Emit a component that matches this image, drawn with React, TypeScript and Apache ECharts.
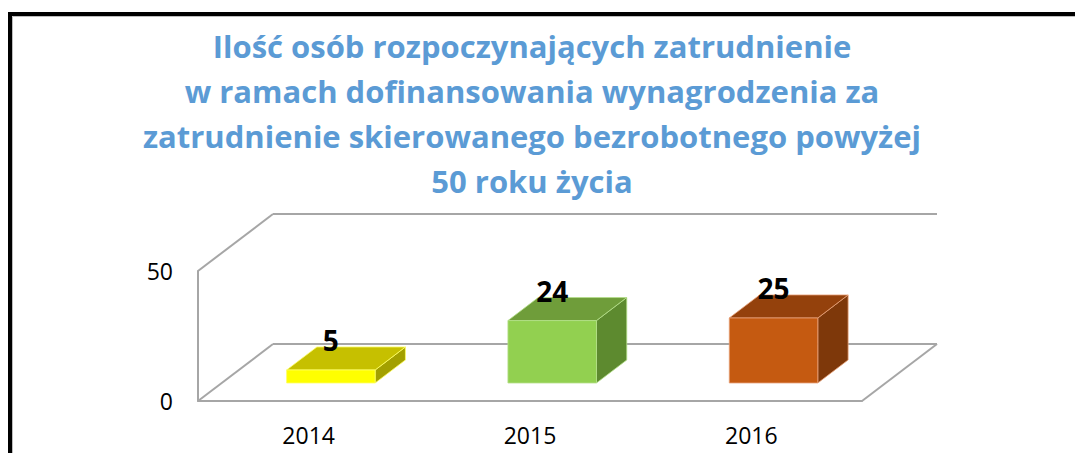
import React, { useEffect, useRef } from "react";
import * as echarts from "echarts";

const categories = ["2014", "2015", "2016"];
const values = [5, 24, 25];
const yTicks = [0, 50];
const titleLines = [
  "Ilość osób rozpoczynających zatrudnienie",
  "w ramach dofinansowania wynagrodzenia za",
  "zatrudnienie skierowanego bezrobotnego powyżej",
  "50 roku życia",
];

const frontColors = ["#FFFF00", "#92D050", "#C55A11"];
const topColors = ["#C6C000", "#6F9D3A", "#94410C"];
const sideColors = ["#A3A000", "#5D8A2F", "#7E380A"];
const edgeColors = ["#FFFF66", "#B5E08A", "#E8A27A"];

const DX = 75;
const DY = -57;
const F1 = 0.316;
const F2 = 0.72;
const WALL = "#A6A6A6";
const FONT = "'Open Sans', 'Noto Sans', sans-serif";

export default function App() {
  const ref = useRef<HTMLDivElement>(null);
  useEffect(() => {
    if (!ref.current) return;
    const chart = echarts.init(ref.current, null, { renderer: "svg" });
    const option: any = {
      animation: false,
      backgroundColor: "#FFFFFF",
      title: {
        text: titleLines.join("\n"),
        left: 527,
        textAlign: "center",
        top: 18,
        textStyle: {
          fontFamily: FONT,
          fontSize: 31,
          fontWeight: "bold",
          color: "#5B9BD5",
          lineHeight: 45,
        },
      },
      graphic: [
        {
          type: "rect",
          shape: { x: 10, y: 14, width: 1200, height: 600 },
          style: { fill: "none", stroke: "#000000", lineWidth: 4 },
          z: 10,
        },
        {
          type: "rect",
          shape: { x: 12.5, y: 16.5, width: 1200, height: 600 },
          style: { fill: "none", stroke: "#BDBDBD", lineWidth: 1 },
          z: 10,
        },
      ],
      grid: { left: 198, right: 213, top: 271, bottom: 52, containLabel: false },
      xAxis: {
        type: "category",
        data: categories,
        boundaryGap: true,
        axisLine: { show: true, lineStyle: { color: WALL, width: 2 } },
        axisTick: { show: false },
        axisLabel: { fontFamily: FONT, fontSize: 23, color: "#000000", margin: 22 },
      },
      yAxis: {
        type: "value",
        min: yTicks[0],
        max: yTicks[yTicks.length - 1],
        interval: yTicks[1] - yTicks[0],
        axisLine: { show: true, lineStyle: { color: WALL, width: 2 } },
        axisTick: { show: false },
        splitLine: { show: false },
        axisLabel: { fontFamily: FONT, fontSize: 23, color: "#000000", margin: 25 },
      },
      series: [
        {
          type: "custom",
          z: 1,
          silent: true,
          data: [[0, 0]],
          encode: { x: 0, y: 1 },
          renderItem: (params: any, api: any) => {
            const band = api.size([1, 0])[0];
            const c0 = api.coord([0, yTicks[0]]);
            const cTop = api.coord([0, yTicks[yTicks.length - 1]]);
            const left = c0[0] - band / 2;
            const right = left + band * categories.length;
            const y0 = c0[1];
            const y50 = cTop[1];
            const ls = { stroke: WALL, lineWidth: 2 };
            const line = (x1: number, y1: number, x2: number, y2: number) => ({
              type: "line",
              shape: { x1, y1, x2, y2 },
              style: ls,
            });
            return {
              type: "group",
              children: [
                line(left + DX, y0 + DY, right + DX, y0 + DY),
                line(left, y0, left + DX, y0 + DY),
                line(right, y0, right + DX, y0 + DY),
                line(left, y50, left + DX, y50 + DY),
                line(left + DX, y50 + DY, right + DX, y50 + DY),
              ],
            };
          },
        },
        {
          type: "custom",
          z: 5,
          data: values.map((v, i) => [i, v]),
          encode: { x: 0, y: 1 },
          renderItem: (params: any, api: any) => {
            const i = api.value(0);
            const v = api.value(1);
            const p0 = api.coord([i, 0]);
            const p1 = api.coord([i, v]);
            const band = api.size([1, 0])[0];
            const w = band * 0.4;
            const ox1 = DX * F1;
            const oy1 = DY * F1;
            const ddx = DX * (F2 - F1);
            const ddy = DY * (F2 - F1);
            const xl = p0[0] - w / 2 + ox1 - 1.5;
            const xr = xl + w;
            const yb = p0[1] + oy1;
            const yt = p1[1] + oy1;
            const edge = { stroke: edgeColors[i], lineWidth: 0.8 };
            return {
              type: "group",
              children: [
                {
                  type: "polygon",
                  shape: { points: [[xr, yt], [xr + ddx, yt + ddy], [xr + ddx, yb + ddy], [xr, yb]] },
                  style: { fill: sideColors[i], ...edge },
                },
                {
                  type: "polygon",
                  shape: { points: [[xl, yt], [xr, yt], [xr + ddx, yt + ddy], [xl + ddx, yt + ddy]] },
                  style: { fill: topColors[i], ...edge },
                },
                {
                  type: "rect",
                  shape: { x: xl, y: yt, width: w, height: yb - yt },
                  style: { fill: frontColors[i], ...edge },
                },
                {
                  type: "text",
                  x: (xl + xr) / 2,
                  y: yt - 30,
                  style: {
                    text: String(v),
                    fontFamily: FONT,
                    fontSize: 28,
                    fontWeight: "bold",
                    fill: "#000000",
                    textAlign: "center",
                    textVerticalAlign: "middle",
                  },
                  z2: 10,
                },
              ],
            };
          },
        },
      ],
    };
    chart.setOption(option);
    return () => chart.dispose();
  }, []);
  return (
    <div
      ref={ref}
      style={{ position: "fixed", left: 0, top: 0, width: 1075, height: 453 }}
    />
  );
}
